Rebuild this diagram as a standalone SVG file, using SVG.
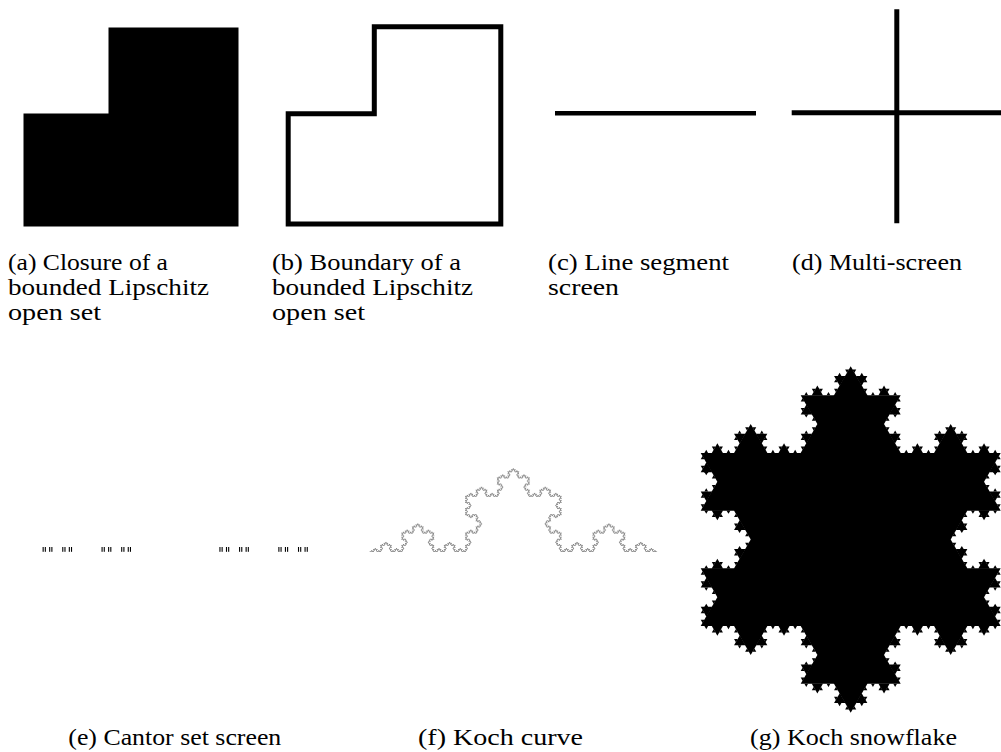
<svg xmlns="http://www.w3.org/2000/svg" width="1001" height="752" viewBox="0 0 1001 752">
<style>
text{font-family:"Liberation Serif","Times New Roman",serif;font-size:23px;fill:#000}
.thick{fill:none;stroke:#000;stroke-width:5;stroke-linejoin:miter}
</style>
<defs>
  <polygon id="kt" points="0.333333,0 0.5,-0.288675 0.666667,0 0.66,0.012 0.34,0.012" fill="#000"/>
  <g id="kr1"><use href="#kt"/></g>
  <g id="kr2"><use href="#kt"/><use href="#kr1" transform="scale(0.333333)"/><use href="#kr1" transform="translate(0.333333,0) rotate(-60) scale(0.333333)"/><use href="#kr1" transform="translate(0.5,-0.288675) rotate(60) scale(0.333333)"/><use href="#kr1" transform="translate(0.666667,0) scale(0.333333)"/></g>
  <g id="kr3"><use href="#kt"/><use href="#kr2" transform="scale(0.333333)"/><use href="#kr2" transform="translate(0.333333,0) rotate(-60) scale(0.333333)"/><use href="#kr2" transform="translate(0.5,-0.288675) rotate(60) scale(0.333333)"/><use href="#kr2" transform="translate(0.666667,0) scale(0.333333)"/></g>
  <g id="kr4"><use href="#kt"/><use href="#kr3" transform="scale(0.333333)"/><use href="#kr3" transform="translate(0.333333,0) rotate(-60) scale(0.333333)"/><use href="#kr3" transform="translate(0.5,-0.288675) rotate(60) scale(0.333333)"/><use href="#kr3" transform="translate(0.666667,0) scale(0.333333)"/></g>

  <line id="kl0" x1="0" y1="0" x2="1" y2="0" stroke="#555" stroke-width="0.38" stroke-linecap="round"/>
  <g id="kl1"><use href="#kl0" transform="scale(0.333333)"/><use href="#kl0" transform="translate(0.333333,0) rotate(-60) scale(0.333333)"/><use href="#kl0" transform="translate(0.5,-0.288675) rotate(60) scale(0.333333)"/><use href="#kl0" transform="translate(0.666667,0) scale(0.333333)"/></g>
  <g id="kl2"><use href="#kl1" transform="scale(0.333333)"/><use href="#kl1" transform="translate(0.333333,0) rotate(-60) scale(0.333333)"/><use href="#kl1" transform="translate(0.5,-0.288675) rotate(60) scale(0.333333)"/><use href="#kl1" transform="translate(0.666667,0) scale(0.333333)"/></g>
  <g id="kl3"><use href="#kl2" transform="scale(0.333333)"/><use href="#kl2" transform="translate(0.333333,0) rotate(-60) scale(0.333333)"/><use href="#kl2" transform="translate(0.5,-0.288675) rotate(60) scale(0.333333)"/><use href="#kl2" transform="translate(0.666667,0) scale(0.333333)"/></g>
  <g id="kl4"><use href="#kl3" transform="scale(0.333333)"/><use href="#kl3" transform="translate(0.333333,0) rotate(-60) scale(0.333333)"/><use href="#kl3" transform="translate(0.5,-0.288675) rotate(60) scale(0.333333)"/><use href="#kl3" transform="translate(0.666667,0) scale(0.333333)"/></g>
  <g id="kl5"><use href="#kl4" transform="scale(0.333333)"/><use href="#kl4" transform="translate(0.333333,0) rotate(-60) scale(0.333333)"/><use href="#kl4" transform="translate(0.5,-0.288675) rotate(60) scale(0.333333)"/><use href="#kl4" transform="translate(0.666667,0) scale(0.333333)"/></g>

  <rect id="c0" x="0" y="0" width="1" height="1" fill="#000"/>
  <g id="c1"><use href="#c0" transform="scale(0.333333,1)"/><use href="#c0" transform="translate(0.666667,0) scale(0.333333,1)"/></g>
  <g id="c2"><use href="#c1" transform="scale(0.333333,1)"/><use href="#c1" transform="translate(0.666667,0) scale(0.333333,1)"/></g>
  <g id="c3"><use href="#c2" transform="scale(0.333333,1)"/><use href="#c2" transform="translate(0.666667,0) scale(0.333333,1)"/></g>
  <g id="c4"><use href="#c3" transform="scale(0.333333,1)"/><use href="#c3" transform="translate(0.666667,0) scale(0.333333,1)"/></g>
  <g id="c5"><use href="#c4" transform="scale(0.333333,1)"/><use href="#c4" transform="translate(0.666667,0) scale(0.333333,1)"/></g>
</defs>
<rect width="1001" height="752" fill="#fff"/>

<g id="fig-a">
  <polygon points="23.5,113.5 108.5,113.5 108.5,27.5 238.5,27.5 238.5,226.5 23.5,226.5" fill="#000"/>
  <text x="8" y="270" textLength="160" lengthAdjust="spacingAndGlyphs">(a) Closure of a</text>
  <text x="8" y="295" textLength="201" lengthAdjust="spacingAndGlyphs">bounded Lipschitz</text>
  <text x="8" y="320" textLength="93" lengthAdjust="spacingAndGlyphs">open set</text>
</g>

<g id="fig-b">
  <path class="thick" d="M288.2,224 V113.8 H374.3 V26.8 H500.8 V224 Z"/>
  <text x="272" y="270" textLength="189" lengthAdjust="spacingAndGlyphs">(b) Boundary of a</text>
  <text x="272" y="295" textLength="201" lengthAdjust="spacingAndGlyphs">bounded Lipschitz</text>
  <text x="272" y="320" textLength="93" lengthAdjust="spacingAndGlyphs">open set</text>
</g>

<g id="fig-c">
  <line x1="555" y1="113.2" x2="756" y2="113.2" stroke="#000" stroke-width="4.5"/>
  <text x="548" y="270" textLength="181" lengthAdjust="spacingAndGlyphs">(c) Line segment</text>
  <text x="548" y="295" textLength="71" lengthAdjust="spacingAndGlyphs">screen</text>
</g>

<g id="fig-d">
  <line x1="791.7" y1="112.7" x2="1001" y2="112.7" stroke="#000" stroke-width="5"/>
  <line x1="896.8" y1="9.3" x2="896.8" y2="223.3" stroke="#000" stroke-width="5"/>
  <text x="792" y="270" textLength="170" lengthAdjust="spacingAndGlyphs">(d) Multi-screen</text>
</g>

<g id="fig-e">
  <use href="#c5" transform="translate(42.6,547) scale(265.2,4.8)"/>
  <text x="68.3" y="745" textLength="213" lengthAdjust="spacingAndGlyphs">(e) Cantor set screen</text>
</g>

<g id="fig-f">
  <use href="#kl5" transform="translate(370,551.5) scale(286.7)"/>
  <text x="418" y="745" textLength="165" lengthAdjust="spacingAndGlyphs">(f) Koch curve</text>
</g>

<g id="fig-g">
  <g transform="translate(850.7,539.5)">
    <polygon points="0,-173.205 150,86.603 -150,86.603" fill="#000"/>
    <use href="#kr4" transform="translate(0,-173.205) rotate(60) scale(300)"/>
    <use href="#kr4" transform="translate(150,86.603) rotate(180) scale(300)"/>
    <use href="#kr4" transform="translate(-150,86.603) rotate(-60) scale(300)"/>
  </g>
  <text x="750" y="745" textLength="207" lengthAdjust="spacingAndGlyphs">(g) Koch snowflake</text>
</g>
</svg>
